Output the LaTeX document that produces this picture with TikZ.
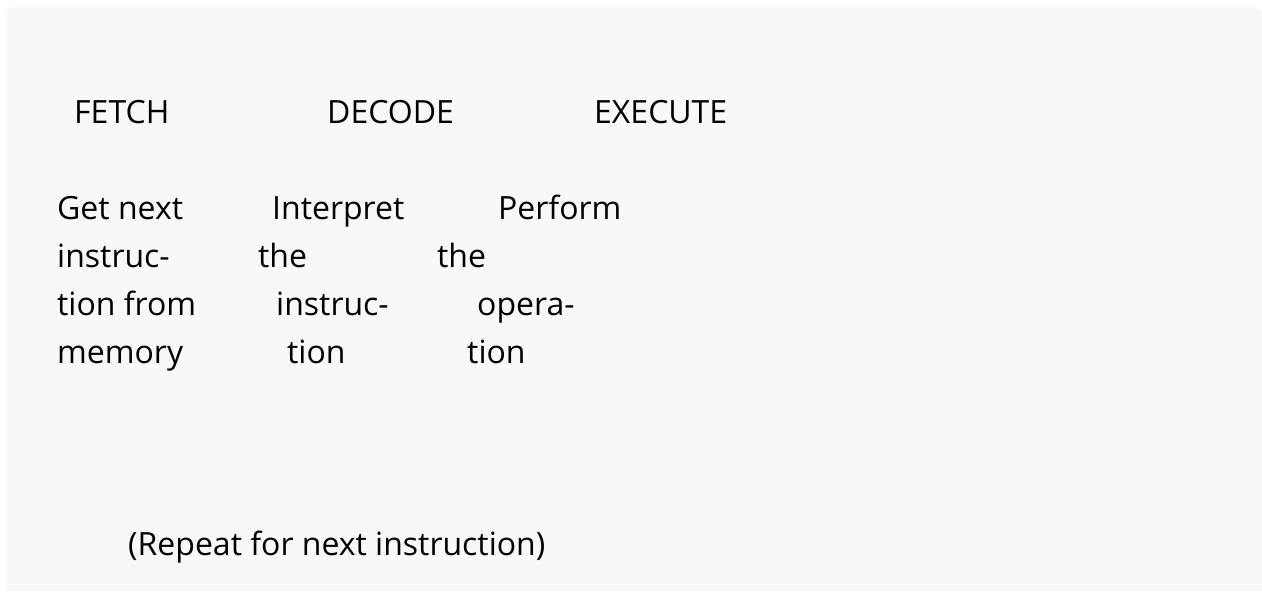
\documentclass[tikz,border=0pt]{standalone}
\usepackage{fontspec}
\setmainfont{Open Sans}
\usepackage{tikz}
\definecolor{panelbg}{HTML}{F7F8FA}

\begin{document}
\begin{tikzpicture}[x=1pt,y=-1pt,
  every node/.style={font=\fontsize{32}{48}\selectfont,inner sep=0pt,anchor=base west}]
  \useasboundingbox (0,0) rectangle (1262,592);
  \fill[white] (0,0) rectangle (1262,592);
  \begin{scope}
    \clip (0,0) rectangle (1262,590);
    \fill[panelbg,rounded corners=10pt] (5,7) rectangle (1263,610);
  \end{scope}
  \node (fetch) at (74,123) {FETCH};
  \node (decode) at (327,123) {DECODE};
  \node (execute) at (594,123) {EXECUTE};
  \node (f1) at (57,219) {Get next};
  \node (f2) at (57,267) {instruc-};
  \node (f3) at (57,315) {tion from};
  \node (f4) at (57,363) {memory};
  \node (d1) at (272,219) {Interpret};
  \node (d2) at (258,267) {the};
  \node (d3) at (276,315) {instruc-};
  \node (d4) at (287,363) {tion};
  \node (e1) at (498,219) {Perform};
  \node (e2) at (437,267) {the};
  \node (e3) at (477,315) {opera-};
  \node (e4) at (467,363) {tion};
  \node (repeat) at (128,555) {(Repeat for next instruction)};
\end{tikzpicture}
\end{document}
